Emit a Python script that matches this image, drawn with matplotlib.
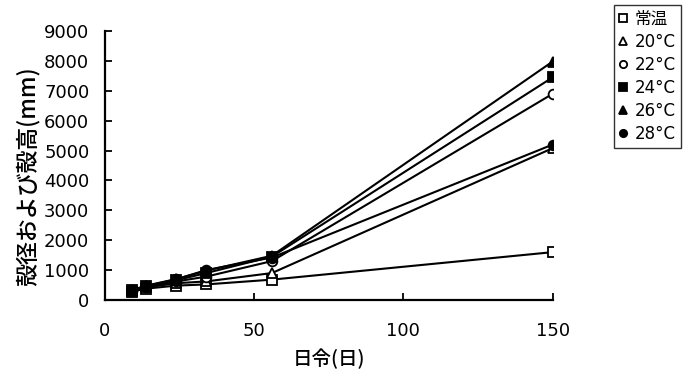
import numpy as np
import matplotlib.pyplot as plt

plt.rcParams['font.family'] = ['DejaVu Sans', 'Noto Sans CJK JP']

days = [9, 14, 24, 34, 56, 150]
series_labels = ["常温", "20°C", "22°C", "24°C", "26°C", "28°C"]
jouon = [280, 380, 480, 520, 680, 1600]
t20 = [300, 420, 560, 620, 900, 5080]
t22 = [310, 440, 620, 780, 1300, 6900]
t24 = [320, 460, 660, 900, 1450, 7450]
t26 = [330, 480, 700, 980, 1480, 7980]
t28 = [320, 470, 690, 1000, 1420, 5200]
values = [jouon, t20, t22, t24, t26, t28]

markers = ['s', '^', 'o', 's', '^', 'o']
fills = ['white', 'white', 'white', 'black', 'black', 'black']

fig = plt.figure(figsize=(6.84, 3.74), dpi=100)
ax = fig.add_axes([0.153, 0.198, 0.655, 0.719])

for lab, v, m, fc in zip(series_labels, values, markers, fills):
    ax.plot(days, v, color='black', lw=1.5, marker=m, markersize=7,
            markerfacecolor=fc, markeredgecolor='black', markeredgewidth=1.3,
            label=lab)

ax.set_xlim(0, 150)
ax.set_ylim(0, 9000)
ax.set_xticks([0, 50, 100, 150])
ax.set_yticks(np.arange(0, 9001, 1000))
ax.spines['top'].set_visible(False)
ax.spines['right'].set_visible(False)
for s in ['left', 'bottom']:
    ax.spines[s].set_linewidth(1.6)
ax.tick_params(direction='in', length=5, width=1.3, labelsize=13)
ax.tick_params(axis='y', pad=11)
ax.tick_params(axis='x', pad=16)

ax.set_xlabel("日令(日)", fontsize=14, family=['Noto Sans CJK JP'], fontweight='medium')
ax.xaxis.set_label_coords(0.5, -0.18)
ax.set_ylabel("殻径および殻高(mm)", fontsize=16.5, family=['Noto Sans CJK JP'], fontweight='medium')
ax.yaxis.set_label_coords(-0.145, 0.46)

leg = fig.legend(loc='upper right', bbox_to_anchor=(1.0, 0.995),
                 prop={'family': ['DejaVu Sans', 'Noto Sans CJK JP'], 'size': 12},
                 frameon=True, fancybox=False, edgecolor='black',
                 handlelength=0.5, handletextpad=0.45, borderpad=0.3,
                 labelspacing=0.3, markerscale=0.75, borderaxespad=0.2)
leg.get_frame().set_linewidth(1.0)
for h in leg.legend_handles:
    h.set_linestyle('None')

fig.savefig("out.png", dpi=100)
